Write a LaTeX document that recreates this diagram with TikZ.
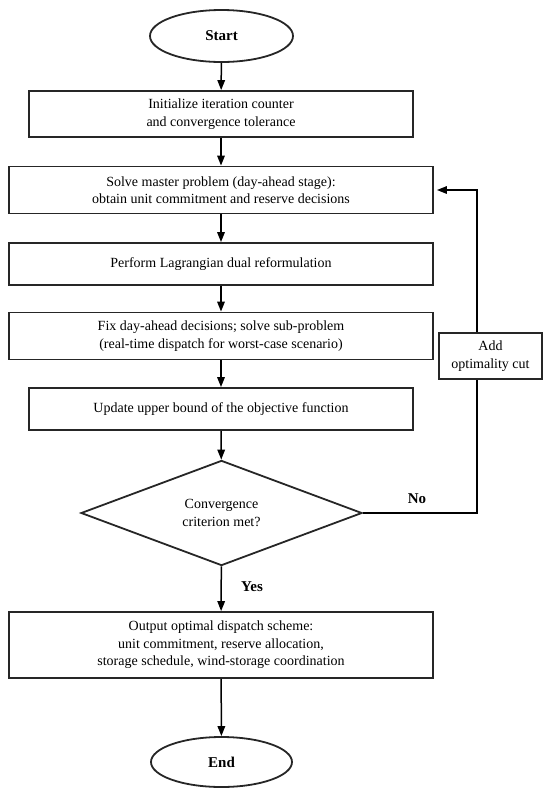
\documentclass[tikz,border=0pt]{standalone}
\usepackage{fontspec}
\setmainfont{Liberation Serif}
\usetikzlibrary{shapes.geometric,arrows.meta}
\begin{document}
\begin{tikzpicture}[x=1pt,y=-1pt,
  every node/.style={font=\fontsize{14}{17.5}\selectfont},
  procbox/.style={draw=black!85,line width=1.8pt,rectangle,inner sep=0pt,align=center},
  termbox/.style={draw=black!85,line width=1.8pt,ellipse,inner sep=0pt,font=\fontsize{15}{18}\selectfont\bfseries},
  decbox/.style={draw=black!85,line width=1.8pt,diamond,inner sep=0pt,align=center},
  lbl/.style={font=\fontsize{15}{18}\selectfont\bfseries},
  flow/.style={line width=1.5pt,-{Triangle[length=10pt,width=7.5pt]}},
  plain/.style={line width=1.5pt}
]
\useasboundingbox (0,0) rectangle (550,788);
\node[termbox,minimum width=143pt,minimum height=52pt] (start) at (221.5,36) {Start};
\node[procbox,minimum width=384pt,minimum height=46pt] (init) at (221,114) {Initialize iteration counter\\and convergence tolerance};
\node[procbox,minimum width=424pt,minimum height=47pt] (solve) at (221,190) {Solve master problem (day-ahead stage):\\obtain unit commitment and reserve decisions};
\node[procbox,minimum width=424pt,minimum height=42pt] (lagr) at (221,264) {Perform Lagrangian dual reformulation};
\node[procbox,minimum width=424pt,minimum height=47pt] (fix) at (221,336) {Fix day-ahead decisions; solve sub-problem\\(real-time dispatch for worst-case scenario)};
\node[procbox,minimum width=384pt,minimum height=42pt] (upd) at (221,409) {Update upper bound of the objective function};
\node[decbox,minimum width=281pt,minimum height=102pt] (dec) at (221.5,513) {Convergence\\criterion met?};
\node[procbox,minimum width=424pt,minimum height=66pt] (out) at (221,645) {Output optimal dispatch scheme:\\unit commitment, reserve allocation,\\storage schedule, wind-storage coordination};
\node[termbox,minimum width=141pt,minimum height=50pt] (end) at (221.5,762) {End};
\node[procbox,minimum width=103pt,minimum height=46pt] (add) at (490.5,356) {Add\\optimality cut};
\node[lbl] (no) at (417,499) {No};
\node[lbl] (yes) at (252,587) {Yes};
\coordinate (c1) at (477,513);
\coordinate (c2) at (477,190);
\draw[flow] (start) -- (init);
\draw[flow] (init) -- (solve);
\draw[flow] (solve) -- (lagr);
\draw[flow] (lagr) -- (fix);
\draw[flow] (fix) -- (upd);
\draw[flow] (upd) -- (dec);
\draw[flow] (dec) -- (out);
\draw[flow] (out) -- (end);
\draw[plain] (dec.east) -- (c1) -- (c1 |- add.south);
\draw[flow,shorten >=3pt] (c1 |- add.north) -- (c2) -- (solve.east);
\end{tikzpicture}
\end{document}
